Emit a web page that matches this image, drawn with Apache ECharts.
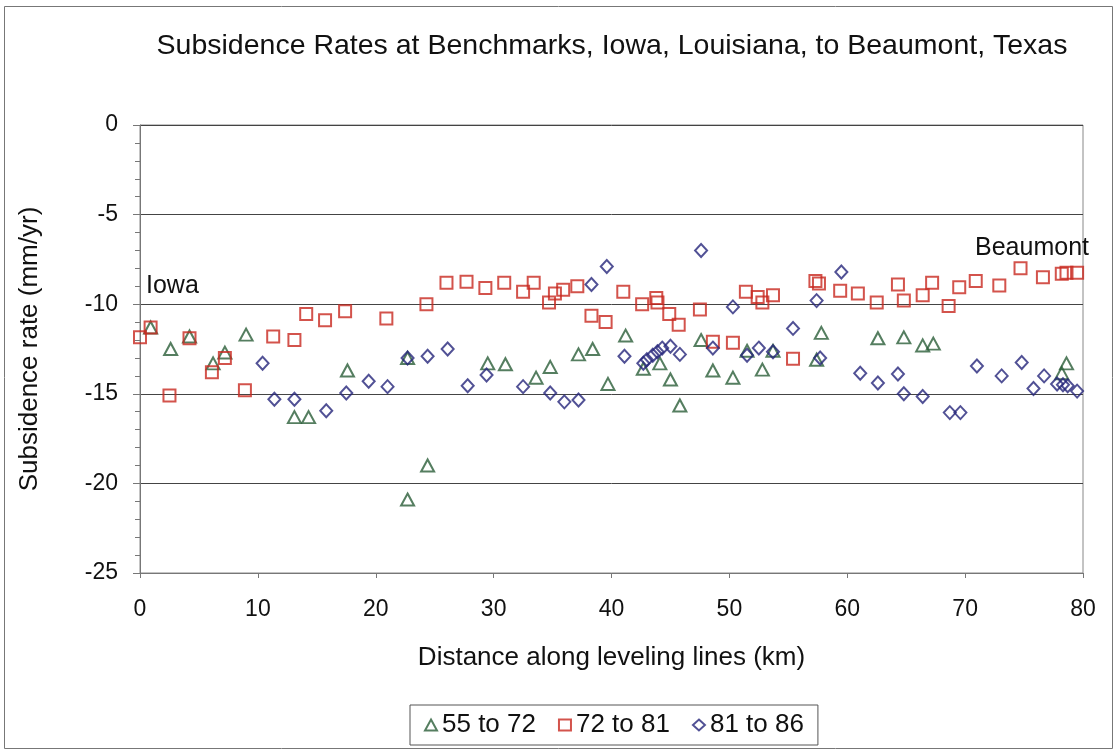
<!DOCTYPE html>
<html>
<head>
<meta charset="utf-8">
<script src="https://cdn.jsdelivr.net/npm/echarts@6/dist/echarts.min.js"></script>
<style>
html,body{margin:0;padding:0;background:#fff;}
#c{width:1120px;height:756px;}
</style>
</head>
<body>
<div id="c"></div>
<script>
const titleText = 'Subsidence Rates at Benchmarks, Iowa, Louisiana, to Beaumont, Texas';
const xTitle = 'Distance along leveling lines (km)';
const yTitle = 'Subsidence rate (mm/yr)';
const seriesNames = ['55 to 72', '72 to 81', '81 to 86'];

const x55 = [0.9, 2.6, 4.2, 6.2, 7.2, 9.0, 13.1, 14.3, 17.6, 22.7, 22.7, 24.4, 29.5, 31.0, 33.6, 34.8, 37.2, 38.4, 39.7, 41.2, 42.7, 44.1, 45.0, 45.8, 47.6, 48.6, 50.3, 51.5, 52.8, 53.7, 57.4, 57.8, 62.6, 64.8, 66.4, 67.3, 78.2, 78.6];
const y55 = [-11.3, -12.5, -11.8, -13.3, -12.7, -11.7, -16.3, -16.3, -13.7, -13.0, -20.9, -19.0, -13.3, -13.35, -14.1, -13.5, -12.8, -12.5, -14.45, -11.75, -13.6, -13.3, -14.2, -15.65, -12.0, -13.7, -14.1, -12.6, -13.65, -12.6, -13.1, -11.6, -11.9, -11.85, -12.3, -12.2, -13.85, -13.3];

const x72 = [0, 0.9, 2.5, 4.2, 6.1, 7.2, 8.9, 11.3, 13.1, 14.1, 15.7, 17.4, 20.9, 24.3, 26.0, 27.7, 29.3, 30.9, 32.5, 33.4, 34.7, 35.2, 35.9, 37.1, 38.3, 39.5, 41.0, 42.6, 43.8, 43.9, 44.9, 45.7, 47.5, 48.6, 50.3, 51.4, 52.4, 52.8, 53.7, 55.4, 57.3, 57.6, 59.4, 60.9, 62.5, 64.3, 64.8, 66.4, 67.2, 68.6, 69.5, 70.9, 72.9, 74.7, 76.6, 78.2, 78.6, 79.5];
const y72 = [-11.85, -11.3, -15.1, -11.9, -13.8, -13.0, -14.8, -11.8, -12.0, -10.55, -10.9, -10.4, -10.8, -10.0, -8.8, -8.75, -9.1, -8.8, -9.3, -8.8, -9.9, -9.4, -9.2, -9.0, -10.65, -11.0, -9.3, -10.0, -9.65, -9.9, -10.55, -11.15, -10.3, -12.1, -12.15, -9.3, -9.6, -9.9, -9.5, -13.05, -8.7, -8.85, -9.25, -9.4, -9.9, -8.9, -9.8, -9.5, -8.8, -10.1, -9.05, -8.7, -8.95, -8.0, -8.5, -8.3, -8.25, -8.25];

const x81 = [10.4, 11.4, 13.1, 15.8, 17.5, 19.4, 21.0, 22.7, 24.4, 26.1, 27.8, 29.4, 32.5, 34.8, 36.0, 37.2, 38.3, 39.6, 41.1, 42.7, 43.0, 43.5, 43.9, 44.3, 45.0, 45.8, 47.6, 48.6, 50.3, 51.5, 52.5, 53.7, 55.4, 57.4, 57.7, 59.5, 61.1, 62.6, 64.3, 64.8, 66.4, 68.7, 69.6, 71.0, 73.1, 74.8, 75.8, 76.7, 77.8, 78.3, 78.7, 79.5];
const y81 = [-13.3, -15.3, -15.3, -15.95, -14.95, -14.3, -14.6, -13.0, -12.9, -12.5, -14.55, -13.95, -14.6, -14.95, -15.45, -15.35, -8.9, -7.9, -12.9, -13.3, -13.1, -12.85, -12.65, -12.45, -12.35, -12.8, -7.0, -12.45, -10.15, -12.85, -12.45, -12.65, -11.35, -9.8, -13.0, -8.2, -13.85, -14.4, -13.9, -15.0, -15.15, -16.05, -16.05, -13.45, -14.0, -13.25, -14.7, -14.0, -14.45, -14.5, -14.55, -14.85];

const annotationTexts = ['Iowa', 'Beaumont'];

const FONT = "'Liberation Sans', Arial, sans-serif";
const zip = (xs, ys) => xs.map((v, i) => [v, ys[i]]);
const colors = ['#2b5e38', '#c8281f', '#25267a'];
const symbols = ['triangle', 'rect', 'diamond'];
const sizes = [[13, 12], [12, 12], [12, 13]];
const data = [zip(x55, y55), zip(x72, y72), zip(x81, y81)];

const chart = echarts.init(document.getElementById('c'), null, {renderer: 'canvas'});
const series = seriesNames.map((n, i) => ({
  name: n,
  type: 'scatter',
  symbol: symbols[i],
  symbolSize: sizes[i],
  data: data[i],
  itemStyle: {color: 'rgba(255,255,255,0)', borderColor: colors[i], borderWidth: 2},
  emphasis: {disabled: true},
  z: 3 + i
}));

chart.setOption({
  animation: false,
  backgroundColor: '#fff',
  title: {
    text: titleText, left: 607, top: 27, textAlign: 'center',
    textStyle: {fontFamily: FONT, fontSize: 28.5, fontWeight: 'normal', color: '#111'}
  },
  grid: {left: 140, right: 37, top: 125, bottom: 183, show: true, borderColor: '#888', borderWidth: 1},
  xAxis: {
    type: 'value', min: 0, max: 80, interval: 10,
    name: xTitle, nameLocation: 'middle', nameGap: 72,
    nameTextStyle: {fontFamily: FONT, fontSize: 26, color: '#111'},
    axisLine: {show: true, onZero: false, lineStyle: {color: '#777'}},
    axisTick: {show: true, length: 5, lineStyle: {color: '#777'}},
    axisLabel: {fontFamily: FONT, fontSize: 23, color: '#111', margin: 25},
    splitLine: {show: false}
  },
  yAxis: {
    type: 'value', min: -25, max: 0, interval: 5,
    name: yTitle, nameLocation: 'middle', nameGap: 97, nameRotate: 90,
    nameTextStyle: {fontFamily: FONT, fontSize: 26, color: '#111'},
    axisLine: {show: true, onZero: false, lineStyle: {color: '#777'}},
    axisTick: {show: true, length: 7, lineStyle: {color: '#777'}},
    minorTick: {show: true, splitNumber: 5, length: 5, lineStyle: {color: '#777'}},
    axisLabel: {fontFamily: FONT, fontSize: 23, color: '#111', margin: 22},
    splitLine: {show: true, lineStyle: {color: '#444', width: 1}}
  },
  legend: {
    data: seriesNames, top: 705, left: 410,
    orient: 'horizontal',
    borderColor: '#555', borderWidth: 1, padding: [7, 14, 7, 14],
    itemWidth: 12, itemHeight: 11, itemGap: 22,
    textStyle: {fontFamily: FONT, fontSize: 26, color: '#111'}
  },
  graphic: [{
    type: 'rect', shape: {x: 4.5, y: 6.5, width: 1108, height: 742}, z: -10,
    style: {fill: 'none', stroke: '#777', lineWidth: 1}, silent: true
  }, {
    type: 'text', left: 146, top: 274, silent: true,
    style: {text: annotationTexts[0], font: "25px " + FONT, fill: '#111'}
  }, {
    type: 'text', right: 31, top: 236, silent: true,
    style: {text: annotationTexts[1], font: "25px " + FONT, fill: '#111'}
  }],
  series: series
});
</script>
</body>
</html>
